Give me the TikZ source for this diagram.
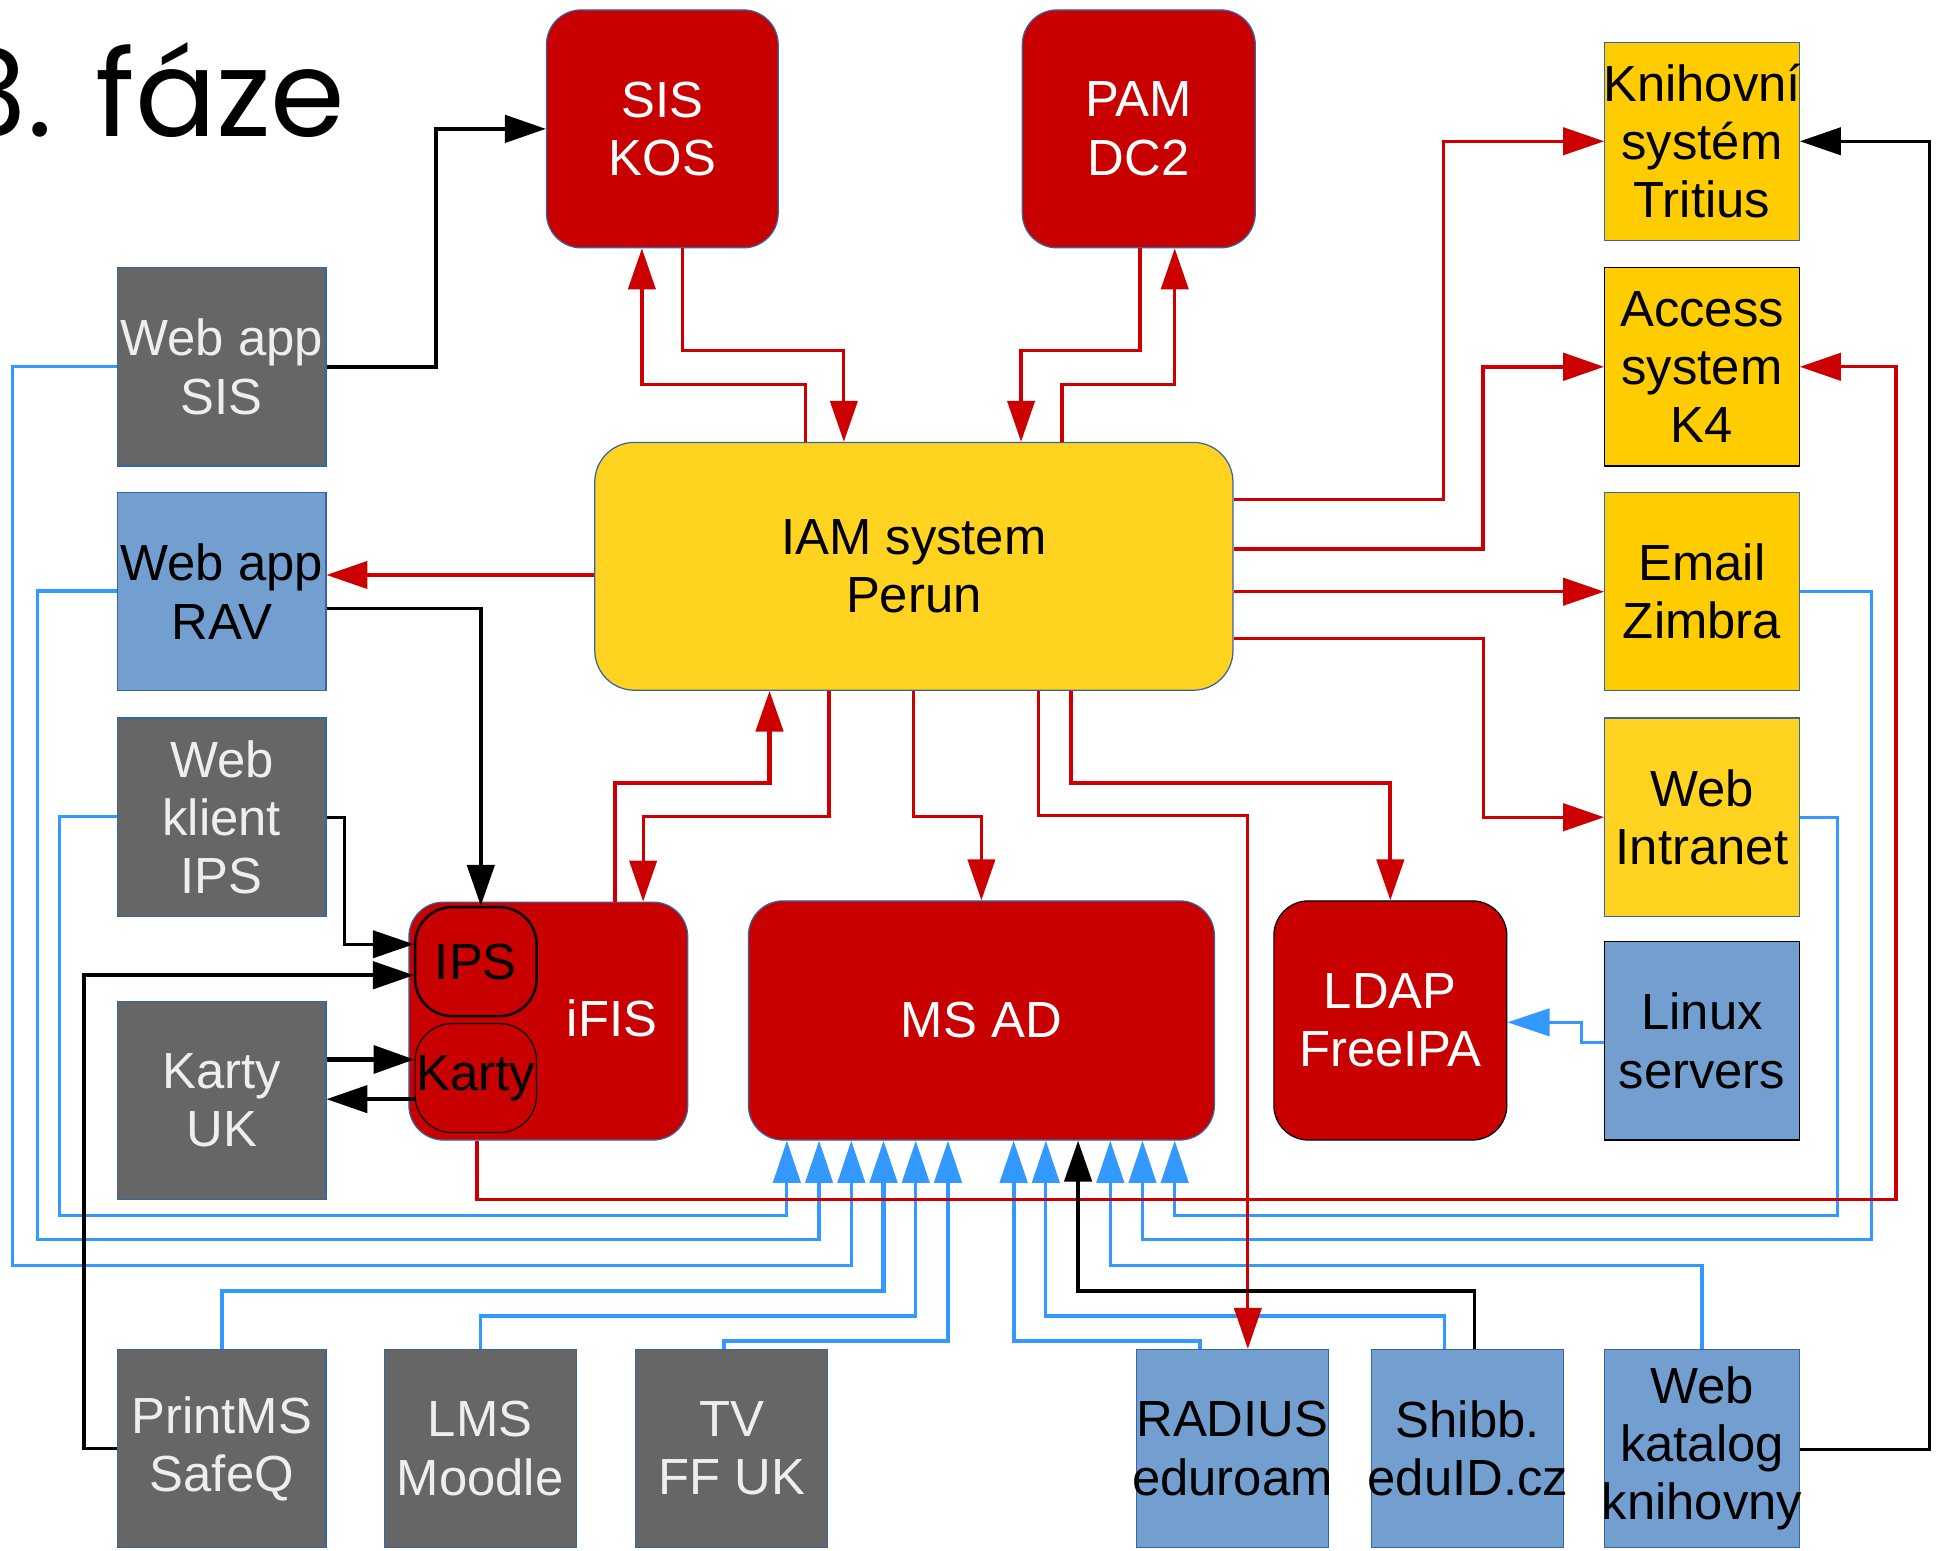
\documentclass[tikz,border=0pt]{standalone}
\usepackage{fontspec}
\setmainfont{Liberation Sans}
\newfontfamily\titlefont{Poppins}
\usetikzlibrary{arrows.meta,calc}
\definecolor{redfill}{HTML}{C80000}
\definecolor{linered}{HTML}{CC0000}
\definecolor{yel}{HTML}{FFD320}
\definecolor{gold}{HTML}{FFCC00}
\definecolor{grayfill}{HTML}{666666}
\definecolor{grtext}{HTML}{EEEEEE}
\definecolor{bluefill}{HTML}{729FCF}
\definecolor{edgeblue}{HTML}{3465A4}
\definecolor{lineblue}{HTML}{3399FF}
\newcommand\lbl{\fontsize{41}{47}\selectfont}
\newcommand\cl[1]{\makebox[0pt]{#1}}
\tikzset{
  box/.style={rectangle, draw=edgeblue, line width=1pt, inner sep=0pt, align=center, font=\lbl, minimum width=157pt, minimum height=160pt},
  gbox/.style={box, fill=grayfill, text=grtext},
  bbox/.style={box, fill=bluefill, text=black},
  ybox/.style={box, fill=gold, text=black},
  rbox/.style={box, fill=redfill, text=white, rounded corners=28pt},
  redline/.style={draw=linered, line width=2.6pt, -{Triangle[length=33pt,width=22pt]}},
  blueline/.style={draw=lineblue, line width=2.6pt, -{Triangle[length=34pt,width=22pt]}},
  blackline/.style={draw=black, line width=3pt, -{Triangle[length=33pt,width=22pt]}},
}
\begin{document}
\begin{tikzpicture}[x=1pt,y=-1pt]
\fill[white] (0,0) rectangle (1568,1251);
\useasboundingbox (0,0) rectangle (1568,1251);

% title
\node[font=\titlefont\fontsize{97}{97}\selectfont, anchor=base east, inner sep=0pt] (title) at (279,110) {3. fáze};

% top
\node[rbox, minimum width=187pt, minimum height=192pt] (sis) at (534.5,104) {SIS\\KOS};
\node[rbox, minimum width=188pt, minimum height=192pt] (pam) at (919,104) {PAM\\DC2};

% right column
\node[ybox] (kni) at (1373.5,114) {\cl{Knihovní}\\systém\\Tritius};
\node[ybox, draw=black] (acc) at (1373.5,296) {Access\\system\\K4};
\node[ybox] (email) at (1373.5,477.5) {Email\\Zimbra};
\node[ybox, fill=yel] (intra) at (1373.5,659.5) {Web\\Intranet};
\node[bbox, draw=black] (linux) at (1373.5,840) {Linux\\servers};

% left column
\node[gbox, minimum width=168pt] (wsis) at (179,296) {Web app\\SIS};
\node[bbox, minimum width=168pt] (wrav) at (179,477.5) {Web app\\RAV};
\node[gbox, minimum width=168pt] (wkl) at (179,659.5) {Web\\klient\\IPS};
\node[gbox, minimum width=168pt] (karty) at (179,888) {Karty\\UK};

% centre
\node[rbox, fill=yel, text=black, rounded corners=32pt, minimum width=515pt, minimum height=200pt] (iam) at (737.5,457) {IAM system\\Perun};
\node[rbox, minimum width=225pt, minimum height=192pt] (ifis) at (442.5,824) {};
\node[font=\lbl, text=white, inner sep=0pt] (ifist) at (494,822) {iFIS};
\node[rbox, draw=black, line width=2pt, rounded corners=30pt, minimum width=98pt, minimum height=88pt, text=black] (ips) at (384,776) {IPS};
\node[rbox, draw=black, line width=1pt, rounded corners=30pt, minimum width=98pt, minimum height=88pt, text=black] (kar) at (384,870) {\cl{Karty}};
\node[rbox, minimum width=376pt, minimum height=193pt] (msad) at (792,823.5) {MS AD};
\node[rbox, draw=black, minimum width=188pt, minimum height=193pt] (ldap) at (1122,823.5) {LDAP\\FreeIPA};

% bottom row
\node[gbox, minimum width=168pt] (print) at (179,1169) {PrintMS\\SafeQ};
\node[gbox, minimum width=155pt] (lms) at (387.5,1169) {LMS\\Moodle};
\node[gbox, minimum width=155pt] (tv) at (590.5,1169) {TV\\FF UK};
\node[bbox, minimum width=155pt] (radius) at (994.5,1169) {\cl{RADIUS}\\\cl{eduroam}};
\node[bbox, minimum width=155pt] (shibb) at (1184.5,1169) {Shibb.\\\cl{eduID.cz}};
\node[bbox] (katalog) at (1373.5,1169) {Web\\katalog\\\cl{knihovny}};

% ---------- blue connectors to MS AD ----------
\draw[blueline] ($(wkl.west)+(0,-0.5)$) -- (48,659) |- (635,981) -- ($(msad.south)+(-157,0)$);
\draw[blueline] ($(wrav.west)+(0,-0.5)$) -- (30,477) |- (661,1000) -- ($(msad.south)+(-131,0)$);
\draw[blueline] (wsis.west) -- (10,296) |- (687,1021) -- ($(msad.south)+(-105,0)$);
\draw[blueline, line width=3.4pt] (print.north) |- (713,1042) -- ($(msad.south)+(-79,0)$);
\draw[blueline] (lms.north) |- (739,1062) -- ($(msad.south)+(-53,0)$);
\draw[blueline, line width=3.2pt] ($(tv.north)+(-6,0)$) |- (765,1082) -- ($(msad.south)+(-27,0)$);
\draw[blueline, line width=3.2pt] ($(radius.north)+(-26,0)$) |- (818,1082) -- ($(msad.south)+(26,0)$);
\draw[blueline] ($(shibb.north)+(-19,0)$) |- (844,1062) -- ($(msad.south)+(52,0)$);
\draw[blueline] (katalog.north) |- (896,1021) -- ($(msad.south)+(104,0)$);
\draw[blueline] (email.east) -- (1510,477.5) |- (922,1000) -- ($(msad.south)+(130,0)$);
\draw[blueline] (intra.east) -- (1483,659.5) |- (948,981) -- ($(msad.south)+(156,0)$);
\draw[blueline] ($(linux.west)+(0,1)$) -- (1276,841) |- ($(ldap.east)+(0,1.5)$);

% ---------- red connectors ----------
\draw[redline] ($(iam.north)+(-87.5,0)$) -- (650,310) -| ($(sis.south)+(-16.5,0)$);
\draw[redline] ($(sis.south)+(16.5,0)$) -- (551,283) -| ($(iam.north)+(-56.5,0)$);
\draw[redline] ($(pam.south)+(1,0)$) -- (920,283) -| ($(iam.north)+(86.5,0)$);
\draw[redline] ($(iam.north)+(119.5,0)$) -- (857,310) -| ($(pam.south)+(29,0)$);
\draw[redline] ($(iam.east)+(0,-54)$) -- (1165,403) |- (kni.west);
\draw[redline, line width=3.2pt] ($(iam.east)+(0,-14)$) -- (1197,443) |- (acc.west);
\draw[redline] ($(iam.east)+(0,20.5)$) -- (email.west);
\draw[redline] ($(iam.east)+(0,58)$) -- (1197,515) |- (intra.west);
\draw[redline] ($(iam.west)+(0,7)$) -- ($(wrav.east)+(0,-13.5)$);
\draw[redline, line width=3.4pt] ($(ifis.north)+(53.5,0)$) |- (621,632) -- ($(iam.south)+(-116.5,0)$);
\draw[redline] ($(iam.south)+(-68.5,0)$) |- (519,659) -- ($(ifis.north)+(76.5,0)$);
\draw[redline] ($(iam.south)+(-0.5,0)$) |- (792,659) -- (msad.north);
\draw[redline] ($(iam.south)+(100.5,0)$) |- (1007,658) -- ($(radius.north)+(12.5,0)$);
\draw[redline, line width=3pt] ($(iam.south)+(126.5,0)$) |- (1122,632) -- (ldap.north);
\draw[redline] ($(ifis.south)+(-57.5,0)$) |- (1530,968) |- (acc.east);

% ---------- black connectors ----------
\draw[blackline] (wsis.east) -| (352,104) -- (sis.west);
\draw[blackline] ($(wrav.east)+(0,13.5)$) -| ($(ips.north)+(4,0)$);
\draw[blackline, line width=2.4pt] (wkl.east) -- (278,659.5) |- ($(ips.west)+(0,-14)$);
\draw[blackline] (print.west) -- (68,1169) |- ($(ips.west)+(0,11)$);
\draw[blackline, line width=4.5pt] ($(karty.east)+(0,-33)$) -- ($(kar.west)+(0,-15)$);
\draw[blackline] ($(kar.west)+(0,17)$) -- ($(karty.east)+(0,-1)$);
\draw[blackline, line width=2.6pt] ($(katalog.east)+(0,1)$) -- (1557,1170) |- (kni.east);
\draw[blackline] ($(shibb.north)+(5.5,0)$) |- (870,1042) -- ($(msad.south)+(78,0)$);
\end{tikzpicture}
\end{document}
